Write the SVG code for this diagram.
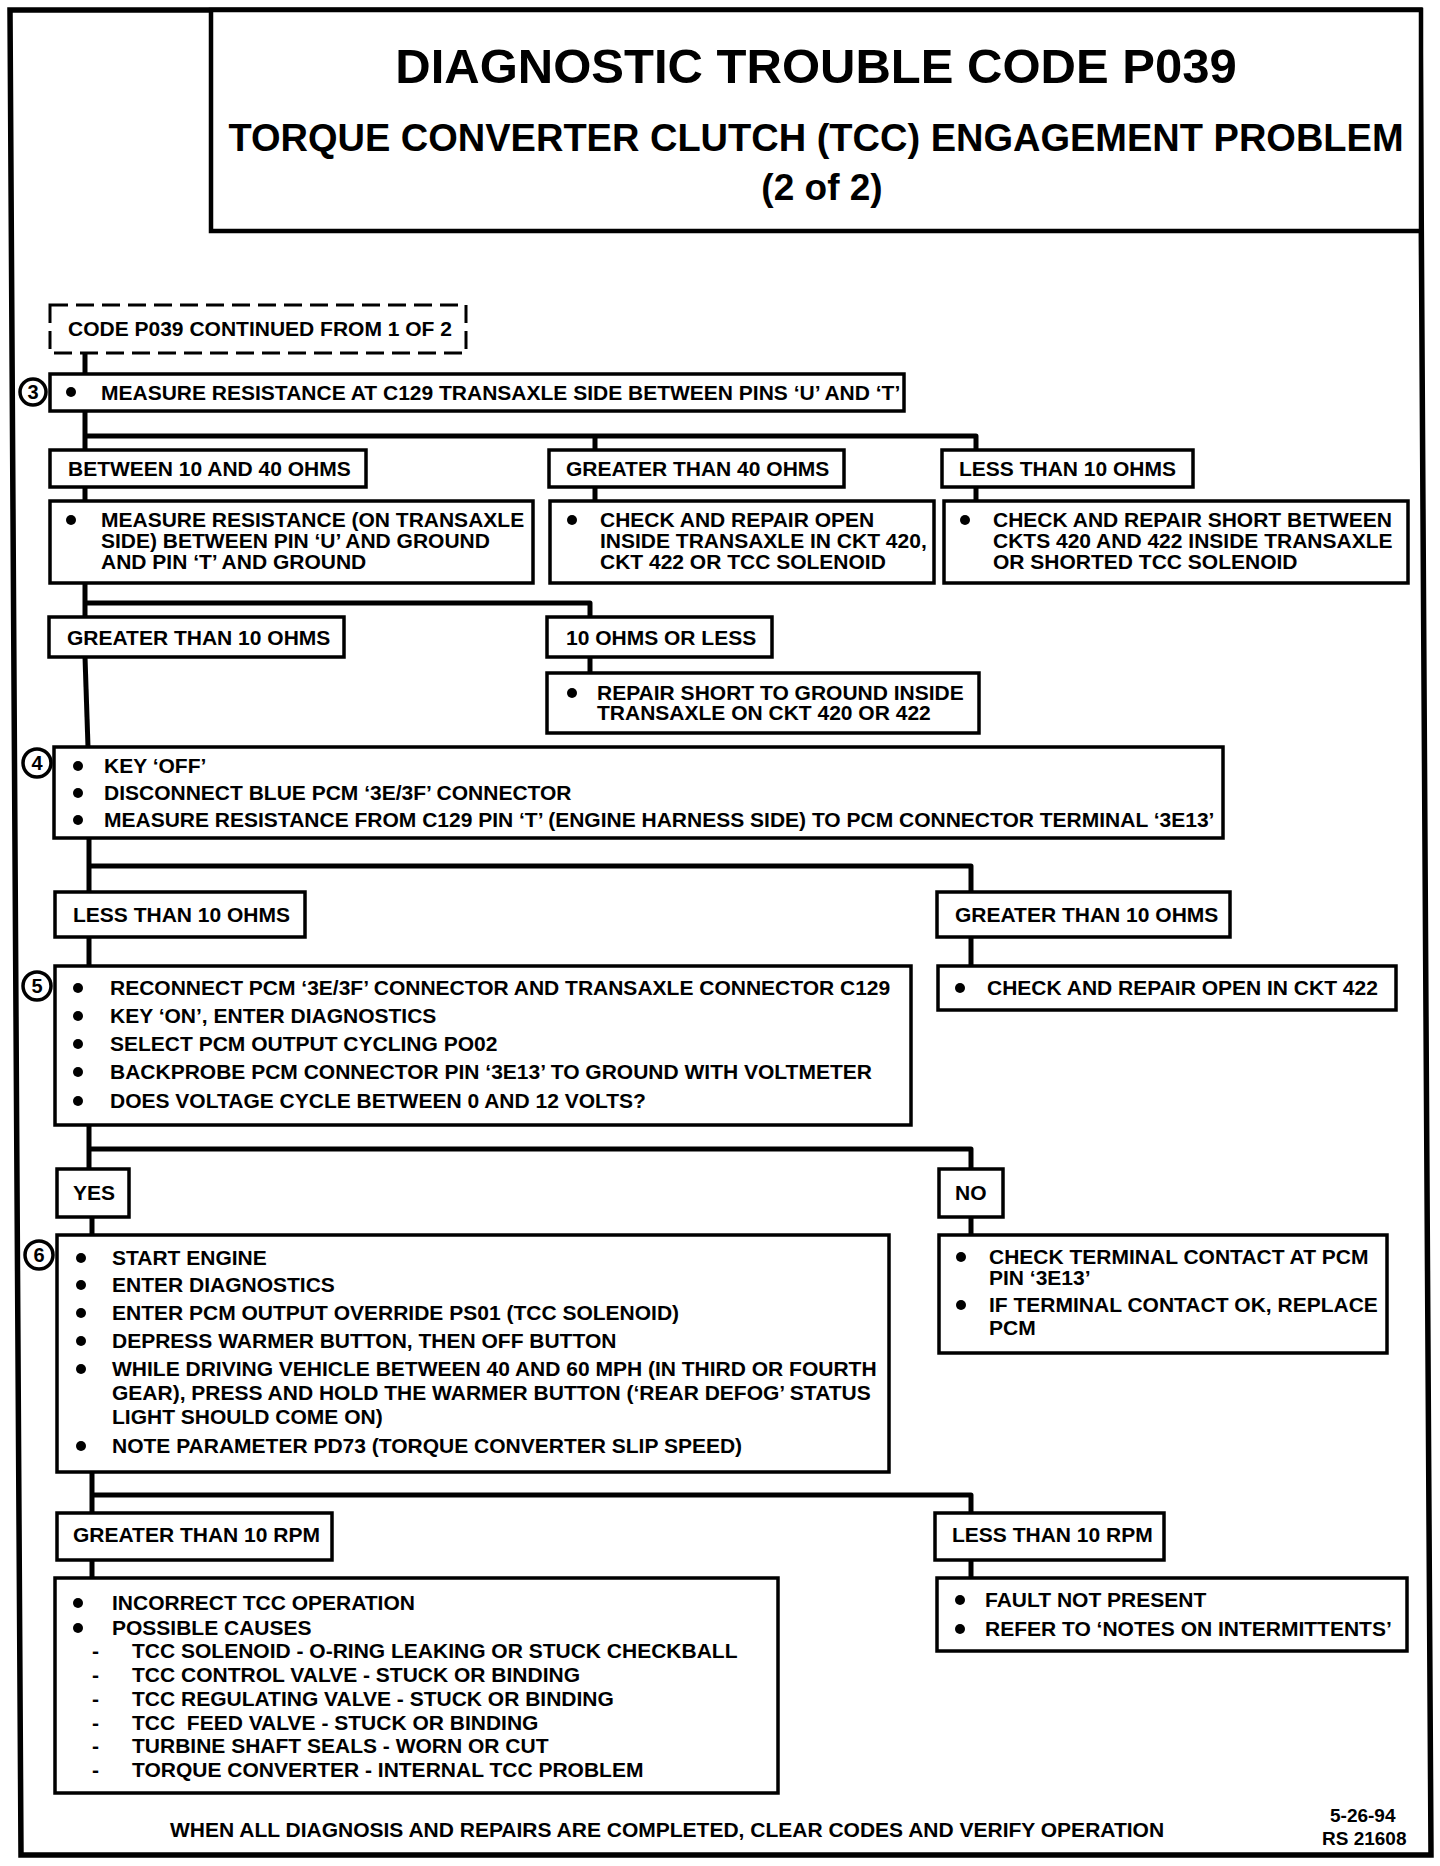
<svg xmlns="http://www.w3.org/2000/svg" xmlns:xlink="http://www.w3.org/1999/xlink" width="1440" height="1866" viewBox="0 0 1440 1866">
<style>
.bx{fill:#fff;stroke:#000;stroke-width:3.5}
.dash{fill:#fff;stroke:#000;stroke-width:3;stroke-dasharray:18 8}
.t{font-family:"Liberation Sans",Arial,sans-serif;font-weight:bold;font-size:21px;fill:#000}
.h1{font-family:"Liberation Sans",Arial,sans-serif;font-weight:bold;font-size:49px;fill:#000;text-anchor:middle}
.h2{font-family:"Liberation Sans",Arial,sans-serif;font-weight:bold;font-size:38px;fill:#000;text-anchor:middle}
.num{font-family:"Liberation Sans",Arial,sans-serif;font-weight:bold;font-size:20px;fill:#000;text-anchor:middle}
.cir{fill:#fff;stroke:#000;stroke-width:3.5}
.conn{fill:none;stroke:#000;stroke-width:5;stroke-linejoin:round}
.frame{fill:none;stroke:#000;stroke-width:5.5}
</style>
<defs>
<circle id="b" r="5" fill="#000"/>
</defs>
<rect width="1440" height="1866" fill="#fff"/>
<path class="frame" d="M10,10 L1420,10 L1431,1855 L21,1855 Z"/>

<g id="title">
<rect x="211" y="10" width="1210" height="221" fill="#fff" stroke="#000" stroke-width="4.5"/>
<text class="h1" x="816" y="83">DIAGNOSTIC TROUBLE CODE P039</text>
<text class="h2" x="816" y="151">TORQUE CONVERTER CLUTCH (TCC) ENGAGEMENT PROBLEM</text>
<text class="h2" x="822" y="200" style="font-size:37px">(2 of 2)</text>
</g>

<g id="connectors">
<path class="conn" d="M85,353 V374"/>
<path class="conn" d="M85,411 V450 M85,436 H976 V450 M595,436 V450"/>
<path class="conn" d="M85,487 V501 M595,487 V501 M976,487 V501"/>
<path class="conn" d="M85,583 V617 M85,603 H590 V617"/>
<path class="conn" d="M590,657 V673"/>
<path class="conn" d="M85,657 L88,747"/>
<path class="conn" d="M89,838 V892 M89,866 H971 V892"/>
<path class="conn" d="M89,937 V966 M971,937 V966"/>
<path class="conn" d="M89,1125 V1169 M89,1149 H971 V1169"/>
<path class="conn" d="M92,1217 V1235 M971,1217 V1235"/>
<path class="conn" d="M92,1472 V1513 M92,1495 H971 V1513"/>
<path class="conn" d="M92,1560 V1578 M971,1560 V1578"/>
</g>

<g id="start">
<rect class="dash" x="50" y="305" width="416" height="48"/>
<text class="t" x="68" y="336">CODE P039 CONTINUED FROM 1 OF 2</text>
</g>

<g id="step3">
<rect class="bx" x="50" y="374" width="854" height="37"/>
<circle class="cir" cx="33" cy="392" r="13"/>
<text class="num" x="33" y="399">3</text>
<use xlink:href="#b" x="71" y="392"/>
<text class="t" x="101" y="400">MEASURE RESISTANCE AT C129 TRANSAXLE SIDE BETWEEN PINS ‘U’ AND ‘T’</text>
</g>

<g id="between10and40">
<rect class="bx" x="50" y="450" width="316" height="37"/>
<text class="t" x="68" y="476">BETWEEN 10 AND 40 OHMS</text>
</g>
<g id="greater40">
<rect class="bx" x="549" y="450" width="295" height="37"/>
<text class="t" x="566" y="476">GREATER THAN 40 OHMS</text>
</g>
<g id="less10a">
<rect class="bx" x="942" y="450" width="251" height="37"/>
<text class="t" x="959" y="476">LESS THAN 10 OHMS</text>
</g>

<g id="measureGround">
<rect class="bx" x="50" y="501" width="483" height="82"/>
<use xlink:href="#b" x="71" y="520"/>
<text class="t" x="101" y="527">MEASURE RESISTANCE (ON TRANSAXLE</text>
<text class="t" x="101" y="548">SIDE) BETWEEN PIN ‘U’ AND GROUND</text>
<text class="t" x="101" y="569">AND PIN ‘T’ AND GROUND</text>
</g>
<g id="repairOpen">
<rect class="bx" x="550" y="501" width="384" height="82"/>
<use xlink:href="#b" x="572" y="520"/>
<text class="t" x="600" y="527">CHECK AND REPAIR OPEN</text>
<text class="t" x="600" y="548">INSIDE TRANSAXLE IN CKT 420,</text>
<text class="t" x="600" y="569">CKT 422 OR TCC SOLENOID</text>
</g>
<g id="repairShort">
<rect class="bx" x="944" y="501" width="464" height="82"/>
<use xlink:href="#b" x="965" y="520"/>
<text class="t" x="993" y="527">CHECK AND REPAIR SHORT BETWEEN</text>
<text class="t" x="993" y="548">CKTS 420 AND 422 INSIDE TRANSAXLE</text>
<text class="t" x="993" y="569">OR SHORTED TCC SOLENOID</text>
</g>

<g id="greater10a">
<rect class="bx" x="49" y="617" width="295" height="40"/>
<text class="t" x="67" y="645">GREATER THAN 10 OHMS</text>
</g>
<g id="tenOrLess">
<rect class="bx" x="547" y="617" width="225" height="40"/>
<text class="t" x="566" y="645">10 OHMS OR LESS</text>
</g>
<g id="repairGround">
<rect class="bx" x="547" y="673" width="432" height="60"/>
<use xlink:href="#b" x="572" y="693"/>
<text class="t" x="597" y="700">REPAIR SHORT TO GROUND INSIDE</text>
<text class="t" x="597" y="720">TRANSAXLE ON CKT 420 OR 422</text>
</g>

<g id="step4">
<rect class="bx" x="54" y="747" width="1169" height="91"/>
<circle class="cir" cx="37" cy="763" r="14"/>
<text class="num" x="37" y="770">4</text>
<use xlink:href="#b" x="78" y="766"/>
<use xlink:href="#b" x="78" y="793"/>
<use xlink:href="#b" x="78" y="820"/>
<text class="t" x="104" y="773">KEY ‘OFF’</text>
<text class="t" x="104" y="800">DISCONNECT BLUE PCM ‘3E/3F’ CONNECTOR</text>
<text class="t" x="104" y="827">MEASURE RESISTANCE FROM C129 PIN ‘T’ (ENGINE HARNESS SIDE) TO PCM CONNECTOR TERMINAL ‘3E13’</text>
</g>

<g id="less10b">
<rect class="bx" x="55" y="892" width="250" height="45"/>
<text class="t" x="73" y="922">LESS THAN 10 OHMS</text>
</g>
<g id="greater10b">
<rect class="bx" x="937" y="892" width="293" height="45"/>
<text class="t" x="955" y="922">GREATER THAN 10 OHMS</text>
</g>

<g id="step5">
<rect class="bx" x="55" y="966" width="856" height="159"/>
<circle class="cir" cx="37" cy="986" r="14"/>
<text class="num" x="37" y="993">5</text>
<use xlink:href="#b" x="78" y="988"/>
<use xlink:href="#b" x="78" y="1016"/>
<use xlink:href="#b" x="78" y="1044"/>
<use xlink:href="#b" x="78" y="1072"/>
<use xlink:href="#b" x="78" y="1101"/>
<text class="t" x="110" y="995">RECONNECT PCM ‘3E/3F’ CONNECTOR AND TRANSAXLE CONNECTOR C129</text>
<text class="t" x="110" y="1023">KEY ‘ON’, ENTER DIAGNOSTICS</text>
<text class="t" x="110" y="1051">SELECT PCM OUTPUT CYCLING PO02</text>
<text class="t" x="110" y="1079">BACKPROBE PCM CONNECTOR PIN ‘3E13’ TO GROUND WITH VOLTMETER</text>
<text class="t" x="110" y="1108">DOES VOLTAGE CYCLE BETWEEN 0 AND 12 VOLTS?</text>
</g>
<g id="openCkt422">
<rect class="bx" x="938" y="966" width="458" height="44"/>
<use xlink:href="#b" x="960" y="988"/>
<text class="t" x="987" y="995">CHECK AND REPAIR OPEN IN CKT 422</text>
</g>

<g id="yes">
<rect class="bx" x="57" y="1169" width="72" height="48"/>
<text class="t" x="73" y="1200">YES</text>
</g>
<g id="no">
<rect class="bx" x="939" y="1169" width="64" height="48"/>
<text class="t" x="955" y="1200">NO</text>
</g>

<g id="step6">
<rect class="bx" x="57" y="1235" width="832" height="237"/>
<circle class="cir" cx="39" cy="1255" r="14"/>
<text class="num" x="39" y="1262">6</text>
<use xlink:href="#b" x="81" y="1258"/>
<use xlink:href="#b" x="81" y="1285"/>
<use xlink:href="#b" x="81" y="1313"/>
<use xlink:href="#b" x="81" y="1341"/>
<use xlink:href="#b" x="81" y="1369"/>
<use xlink:href="#b" x="81" y="1446"/>
<text class="t" x="112" y="1265">START ENGINE</text>
<text class="t" x="112" y="1292">ENTER DIAGNOSTICS</text>
<text class="t" x="112" y="1320">ENTER PCM OUTPUT OVERRIDE PS01 (TCC SOLENOID)</text>
<text class="t" x="112" y="1348">DEPRESS WARMER BUTTON, THEN OFF BUTTON</text>
<text class="t" x="112" y="1376">WHILE DRIVING VEHICLE BETWEEN 40 AND 60 MPH (IN THIRD OR FOURTH</text>
<text class="t" x="112" y="1400">GEAR), PRESS AND HOLD THE WARMER BUTTON (‘REAR DEFOG’ STATUS</text>
<text class="t" x="112" y="1424">LIGHT SHOULD COME ON)</text>
<text class="t" x="112" y="1453">NOTE PARAMETER PD73 (TORQUE CONVERTER SLIP SPEED)</text>
</g>
<g id="terminalContact">
<rect class="bx" x="939" y="1235" width="448" height="118"/>
<use xlink:href="#b" x="961" y="1257"/>
<use xlink:href="#b" x="961" y="1305"/>
<text class="t" x="989" y="1264">CHECK TERMINAL CONTACT AT PCM</text>
<text class="t" x="989" y="1285">PIN ‘3E13’</text>
<text class="t" x="989" y="1312">IF TERMINAL CONTACT OK, REPLACE</text>
<text class="t" x="989" y="1335">PCM</text>
</g>

<g id="greater10rpm">
<rect class="bx" x="57" y="1513" width="275" height="47"/>
<text class="t" x="73" y="1542">GREATER THAN 10 RPM</text>
</g>
<g id="less10rpm">
<rect class="bx" x="935" y="1513" width="229" height="47"/>
<text class="t" x="952" y="1542">LESS THAN 10 RPM</text>
</g>

<g id="incorrectTcc">
<rect class="bx" x="55" y="1578" width="723" height="215"/>
<use xlink:href="#b" x="78" y="1603"/>
<use xlink:href="#b" x="78" y="1628"/>
<text class="t" x="112" y="1610">INCORRECT TCC OPERATION</text>
<text class="t" x="112" y="1635">POSSIBLE CAUSES</text>
<text class="t" x="92" y="1658">-</text>
<text class="t" x="132" y="1658">TCC SOLENOID - O-RING LEAKING OR STUCK CHECKBALL</text>
<text class="t" x="92" y="1682">-</text>
<text class="t" x="132" y="1682">TCC CONTROL VALVE - STUCK OR BINDING</text>
<text class="t" x="92" y="1706">-</text>
<text class="t" x="132" y="1706">TCC REGULATING VALVE - STUCK OR BINDING</text>
<text class="t" x="92" y="1730">-</text>
<text class="t" x="132" y="1730" xml:space="preserve">TCC  FEED VALVE - STUCK OR BINDING</text>
<text class="t" x="92" y="1753">-</text>
<text class="t" x="132" y="1753">TURBINE SHAFT SEALS - WORN OR CUT</text>
<text class="t" x="92" y="1777">-</text>
<text class="t" x="132" y="1777">TORQUE CONVERTER - INTERNAL TCC PROBLEM</text>
</g>
<g id="faultNotPresent">
<rect class="bx" x="937" y="1578" width="470" height="73"/>
<use xlink:href="#b" x="960" y="1600"/>
<use xlink:href="#b" x="960" y="1629"/>
<text class="t" x="985" y="1607">FAULT NOT PRESENT</text>
<text class="t" x="985" y="1636">REFER TO ‘NOTES ON INTERMITTENTS’</text>
</g>

<g id="footer">
<text class="t" x="170" y="1837">WHEN ALL DIAGNOSIS AND REPAIRS ARE COMPLETED, CLEAR CODES AND VERIFY OPERATION</text>
<text class="t" x="1330" y="1822" style="font-size:19px">5-26-94</text>
<text class="t" x="1322" y="1845" style="font-size:19px">RS 21608</text>
</g>
</svg>
